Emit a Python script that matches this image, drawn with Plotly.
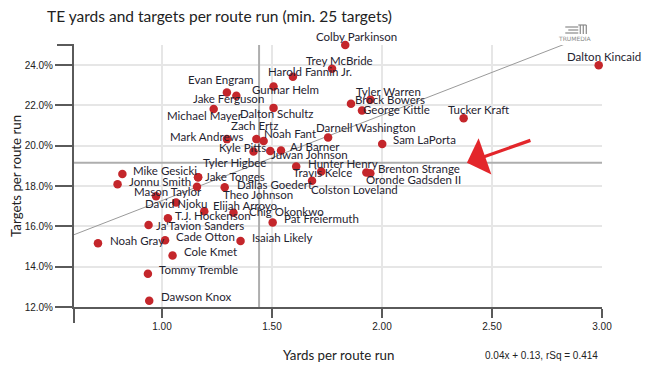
import numpy as np
import plotly.graph_objects as go

# ---------------- data ----------------
players = [
    "Colby Parkinson", "Trey McBride", "Harold Fannin Jr.", "Gunnar Helm", "Evan Engram",
    "Jake Ferguson", "Michael Mayer", "Dalton Schultz", "Tyler Warren", "Brock Bowers",
    "George Kittle", "Tucker Kraft", "Dalton Kincaid", "Darnell Washington", "Sam LaPorta",
    "Brenton Strange", "Oronde Gadsden II", "Mark Andrews", "Zach Ertz", "Noah Fant",
    "Kyle Pitts", "Juwan Johnson", "AJ Barner", "Hunter Henry", "Travis Kelce",
    "Colston Loveland", "Mike Gesicki", "Jonnu Smith", "Jake Tonges", "Tyler Higbee",
    "Theo Johnson", "Dallas Goedert", "Mason Taylor", "David Njoku", "T.J. Hockenson",
    "Elijah Arroyo", "Chig Okonkwo", "Pat Freiermuth", "Ja'Tavion Sanders", "Noah Gray",
    "Cade Otton", "Isaiah Likely", "Cole Kmet", "Tommy Tremble", "Dawson Knox",
]
yards_per_route = [
    1.833, 1.773, 1.595, 1.507, 1.295,
    1.338, 1.235, 1.507, 1.947, 1.859,
    1.909, 2.371, 2.985, 1.755, 2.001,
    1.929, 1.947, 1.295, 1.429, 1.462,
    1.416, 1.492, 1.541, 1.610, 1.724,
    1.682, 0.820, 0.798, 1.164, 1.164,
    1.159, 1.285, 0.973, 1.064, 1.027,
    1.192, 1.325, 1.503, 0.939, 0.709,
    1.014, 1.357, 1.048, 0.936, 0.942,
]
targets_per_route = [
    0.2500, 0.2382, 0.2343, 0.2294, 0.2264,
    0.2248, 0.2182, 0.2188, 0.2228, 0.2208,
    0.2175, 0.2137, 0.2400, 0.2041, 0.2009,
    0.1867, 0.1864, 0.2033, 0.2033, 0.2024,
    0.1971, 0.1974, 0.1976, 0.1897, 0.1872,
    0.1826, 0.1860, 0.1809, 0.1844, 0.1844,
    0.1797, 0.1794, 0.1750, 0.1718, 0.1640,
    0.1675, 0.1668, 0.1619, 0.1607, 0.1516,
    0.1531, 0.1528, 0.1455, 0.1365, 0.1231,
]
x_ticks = [1.0, 1.5, 2.0, 2.5, 3.0]
y_ticks = [0.12, 0.14, 0.16, 0.18, 0.20, 0.22, 0.24]

# label placement (pixel offsets of label left edge / vertical centre from the dot)
label_dx = [
    -29, -26, -25, -22, -39,
    -43, -47, -34, -14, 4,
    1, -16, -32, -12, 11,
    12, -4, -57, -25, 0,
    -35, 1, 9, 12, -28,
    -1, 11, 11, 7, 5,
    26, 12, -22, -31, 7,
    9, 15, 11, 7, 12,
    11, 11, 11, 11, 12,
]
label_dy = [
    9, 8, 5, -3, 13,
    -3, -6, -6, 8, 4,
    1, 9, 9, 10, 4,
    4, -6, 3, 14, 7,
    4, -3, 4, 3, -1,
    -9, 3, 3, 1, 15,
    -8, 3, 5, -1, 3,
    6, 1, 4, -1, 3,
    4, 3, 4, 4, 4,
]

# ---------------- layout geometry ----------------
# the page body has an 8px margin, so the figure is drawn 8px in from the window edge
OFF = 8
W, H = 652 - OFF, 373 - OFF
PL, PR, PT, PB = 74, 601.7, 45, 307          # plot area in window pixels
ML, MT = PL - OFF, PT - OFF
MR, MB = W - (PR - OFF), H - (PB - OFF)
PW, PH = PR - PL, PB - PT


def px(x):
    return (x - PL) / PW


def py(y):
    return (PB - y) / PH


xr = [0.6, 3.0]
yr = [0.12, 0.25]

xs = np.array(yards_per_route)
ys = np.array(targets_per_route)
mean_x = xs.mean()
mean_y = ys.mean()
slope, intercept = np.polyfit(xs, ys, 1)

fig = go.Figure()

# mean lines
fig.add_trace(go.Scatter(x=[mean_x, mean_x], y=yr, mode="lines",
                         line=dict(color="#aeaeae", width=2), hoverinfo="skip", showlegend=False))
fig.add_trace(go.Scatter(x=xr, y=[mean_y, mean_y], mode="lines",
                         line=dict(color="#aeaeae", width=2), hoverinfo="skip", showlegend=False))
# regression line
reg_x = np.array(xr)
fig.add_trace(go.Scatter(x=reg_x, y=slope * reg_x + intercept, mode="lines",
                         line=dict(color="#9a9a9a", width=1), hoverinfo="skip", showlegend=False))

annotations = []
for name, xv, yv, dx, dy in zip(players, yards_per_route, targets_per_route, label_dx, label_dy):
    annotations.append(dict(
        x=xv, y=yv, xref="x", yref="y", text=name, showarrow=False,
        xanchor="left", yanchor="middle", xshift=dx - 1, yshift=dy,
        font=dict(family="Lato", size=11.5, color="#1f2330"), borderpad=0,
    ))

# points
fig.add_trace(go.Scatter(
    x=yards_per_route, y=targets_per_route, mode="markers", text=players,
    marker=dict(size=8.5, color="#c4262b", line=dict(width=0)),
    cliponaxis=False, showlegend=False,
    hovertemplate="%{text}<br>%{x:.2f} YPRR<br>%{y:.1%} TPRR<extra></extra>",
))

# red arrow pointing at the average line
annotations.append(dict(
    x=2.386, y=mean_y, xref="x", yref="y", text="", showarrow=True,
    ax=65, ay=-23, arrowhead=1, arrowsize=2.0, arrowwidth=3.2, arrowcolor="#e3262b",
    standoff=0,
))

# title and axis titles
annotations += [
    dict(text="TE yards and targets per route run (min. 25 targets)", xref="paper", yref="paper",
         x=px(46.5), y=py(5.5), xanchor="left", yanchor="top", showarrow=False, borderpad=0,
         font=dict(family="Lato", size=15.5, color="#222222")),
    dict(text="Yards per route run", xref="paper", yref="paper",
         x=0.5, y=py(355), xanchor="center", yanchor="middle", showarrow=False,
         font=dict(family="Lato", size=13.3, color="#222222")),
    dict(text="Targets per route run", xref="paper", yref="paper", textangle=-90,
         x=px(16), y=0.5, xanchor="center", yanchor="middle", showarrow=False,
         font=dict(family="Lato", size=13.3, color="#222222")),
    dict(text="0.04x + 0.13, rSq = 0.414", xref="paper", yref="paper",
         x=px(600), y=py(355), xanchor="right", yanchor="middle", showarrow=False,
         font=dict(family="Liberation Sans", size=10, color="#222222")),
    dict(text="TRUMEDIA", xref="paper", yref="paper",
         x=px(575), y=py(38.5), xanchor="center", yanchor="middle", showarrow=False,
         font=dict(family="DejaVu Sans", size=6, color="#8a8a8a")),
]

axis_col = "#5a5a5a"
shapes = [
    # left axis extension below the x axis
    dict(type="line", xref="paper", yref="paper", x0=0, x1=0, y0=py(307), y1=py(323),
         line=dict(color=axis_col, width=2)),
    # top cap tick
    dict(type="line", xref="paper", yref="paper", x0=px(57), x1=0, y0=1, y1=1,
         line=dict(color=axis_col, width=2)),
]
# small logo glyph
for x0, y0, x1, y1 in [(565, 27, 578, 27), (568, 30, 578, 30), (565, 33, 578, 33),
                       (578, 25, 586, 25), (580, 25, 580, 34), (583, 25, 583, 34), (586, 25, 586, 34)]:
    shapes.append(dict(type="line", xref="paper", yref="paper", x0=px(x0), x1=px(x1),
                       y0=py(y0), y1=py(y1), line=dict(color="#8a8a8a", width=1.2)))

fig.update_layout(
    width=W, height=H, margin=dict(l=ML, r=MR, t=MT, b=MB, autoexpand=False),
    paper_bgcolor="white", plot_bgcolor="white",
    annotations=annotations, shapes=shapes,
    xaxis=dict(range=xr, tickvals=x_ticks, ticktext=[f"{v:.2f}" for v in x_ticks],
               showgrid=True, gridcolor="#e6e6e6", gridwidth=2, zeroline=False,
               showline=True, linecolor=axis_col, linewidth=2,
               ticks="outside", ticklen=9, tickwidth=2, tickcolor=axis_col,
               tickfont=dict(family="Liberation Sans", size=10, color="#222222")),
    yaxis=dict(range=yr, tickvals=y_ticks, tickformat=".1%",
               showgrid=True, gridcolor="#e6e6e6", gridwidth=2, zeroline=False,
               showline=True, linecolor=axis_col, linewidth=2,
               ticks="outside", ticklen=17, tickwidth=2, tickcolor=axis_col,
               tickfont=dict(family="Liberation Sans", size=10, color="#222222")),
    hovermode="closest",
)

fig.write_html("out.html", config={"displayModeBar": False})
